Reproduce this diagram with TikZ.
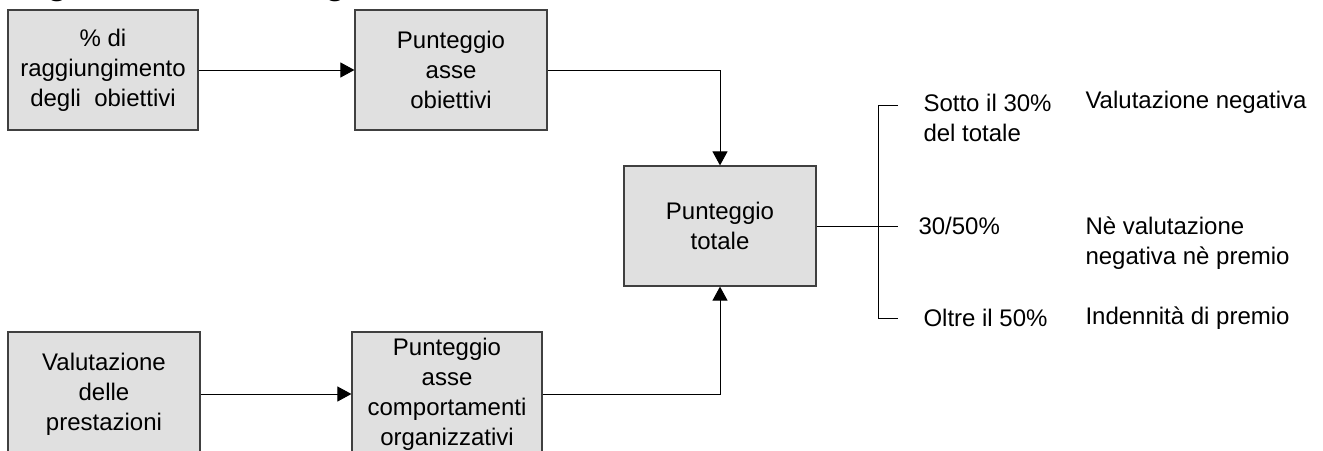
\documentclass[tikz,border=0pt]{standalone}
\usepackage{fontspec}
\setmainfont{Liberation Sans}
\usetikzlibrary{arrows.meta}
\begin{document}
\begin{tikzpicture}[x=.5pt,y=-.5pt,line width=.5pt,font=\fontsize{12}{15}\selectfont,
  box/.style={draw=black!75,line width=.6pt,fill=black!12,align=center,minimum width=95pt,minimum height=60pt,inner sep=0pt},
  lbl/.style={anchor=west,align=left,inner sep=0pt},
  arr/.style={-{Triangle[length=7pt,width=7.5pt]}}]
\useasboundingbox (0,0) rectangle (1323,450);
\clip (0,0) rectangle (1323,450);
\node[anchor=base west,inner sep=0pt,font=\fontsize{20}{24}\selectfont] (head) at (2,-7) {originalmente il seguente};
% boxes
\node[box] (obi) at (103,70) {\% di\\raggiungimento\\degli~ obiettivi};
\node[box,minimum width=96pt] (pob) at (451,70) {Punteggio\\asse\\obiettivi};
\node[box,minimum width=96pt] (tot) at (720,226) {Punteggio\\totale};
\node[box,minimum width=96pt,minimum height=62pt] (val) at (104,394) {Valutazione\\delle\\prestazioni};
\node[box,minimum height=62pt] (pco) at (447,394) {Punteggio\\asse\\comportamenti\\organizzativi};
\draw[arr] (obi) -- (pob);
\draw[arr] (pob.east) -| (tot.north);
\draw[arr] (val) -- (pco);
\draw[arr] (pco.east) -| (tot.south);
% bracket
\coordinate (bt) at (898,105); \coordinate (bm) at (898,226); \coordinate (bb) at (898,318);
\draw (bt) -- ++(-20,0) |- (bb);
\draw (tot.east) -- (bm);
\node[lbl] (s1) at (923,118) {Sotto il 30\%\\del totale};
\node[lbl] (s2) at (918,226) {30/50\%};
\node[lbl] (s3) at (923,318) {Oltre il 50\%};
\node[lbl] (v1) at (1085,102) {Valutazione negativa};
\node[lbl] (v2) at (1085,243) {Nè valutazione\\negativa nè premio};
\node[lbl] (v3) at (1085,318) {Indennità di premio};
\end{tikzpicture}
\end{document}
